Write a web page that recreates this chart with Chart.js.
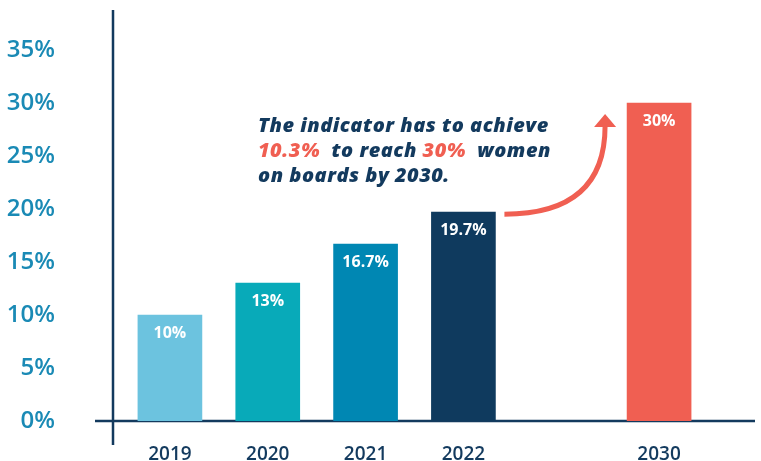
<!DOCTYPE html>
<html lang="en">
<head>
  <meta charset="UTF-8">
  <title>Women on boards</title>
  <script src="https://cdn.jsdelivr.net/npm/chart.js"></script>
  <style>
    html, body { margin: 0; padding: 0; background: #fff; }
    #wrap { width: 761px; height: 461px; position: relative; }
  </style>
</head>
<body>
  <div id="wrap"><canvas id="chart"></canvas></div>

  <script>
    // data
    const years = ['2019', '2020', '2021', '2022', '', '2030'];
    const share = [10, 13, 16.7, 19.7, null, 30];
    const valueLabels = ['10%', '13%', '16.7%', '19.7%', '', '30%'];
    const barColors = ['#6CC3DF', '#08AAB9', '#0087B3', '#0F3A5E', '#ffffff', '#F05F52'];
    const yTicks = [0, 5, 10, 15, 20, 25, 30, 35];

    const NAVY = '#133A5E';
    const CORAL = '#F05F52';
    const FONT = '"Open Sans", "DejaVu Sans", sans-serif';

    // axis lines crossing each other, like the original
    const axisLines = {
      id: 'axisLines',
      beforeDatasetsDraw(chart) {
        const { ctx, chartArea } = chart;
        const y0 = chart.scales.y.getPixelForValue(0);
        const xAxis = chartArea.left - 8;
        ctx.save();
        ctx.strokeStyle = NAVY;
        ctx.lineWidth = 2.5;
        ctx.beginPath();
        ctx.moveTo(xAxis, 10);
        ctx.lineTo(xAxis, 445);
        ctx.moveTo(95, y0);
        ctx.lineTo(755, y0);
        ctx.stroke();
        ctx.restore();
      }
    };

    // white value labels inside the top of each bar
    const barLabels = {
      id: 'barLabels',
      afterDatasetsDraw(chart) {
        const { ctx } = chart;
        const meta = chart.getDatasetMeta(0);
        ctx.save();
        ctx.fillStyle = '#fff';
        ctx.font = `bold 16px ${FONT}`;
        ctx.textAlign = 'center';
        ctx.textBaseline = 'middle';
        meta.data.forEach((bar, i) => {
          if (share[i] == null) return;
          ctx.fillText(valueLabels[i], bar.x, bar.y + 18);
        });
        ctx.restore();
      }
    };

    // callout text + curved arrow towards the 2030 target
    const callout = {
      id: 'callout',
      afterDraw(chart) {
        const { ctx } = chart;
        const meta = chart.getDatasetMeta(0);
        const b22 = meta.data[3];
        const b30 = meta.data[5];

        ctx.save();
        ctx.font = `italic 800 20px ${FONT}`;
        ctx.letterSpacing = '0.5px';
        ctx.textBaseline = 'middle';
        ctx.textAlign = 'left';
        const lines = [
          [['The indicator has to achieve', NAVY]],
          [['10.3%', CORAL], ['  to reach ', NAVY], ['30%', CORAL], ['  women', NAVY]],
          [['on boards by 2030.', NAVY]]
        ];
        lines.forEach((parts, li) => {
          let x = 258;
          const y = 126 + li * 25;
          parts.forEach(([txt, col]) => {
            ctx.fillStyle = col;
            ctx.fillText(txt, x, y);
            x += ctx.measureText(txt).width;
          });
        });

        // arrow
        const sx = b22.x + b22.width / 2 + 9;
        const sy = b22.y + 2;
        const ex = b30.x - b30.width / 2 - 22;
        const ey = b30.y + 23;
        ctx.strokeStyle = CORAL;
        ctx.lineWidth = 5;
        ctx.beginPath();
        ctx.moveTo(sx, sy);
        ctx.quadraticCurveTo(ex, sy, ex, ey);
        ctx.stroke();
        ctx.fillStyle = CORAL;
        ctx.beginPath();
        ctx.moveTo(ex, ey - 12);
        ctx.lineTo(ex - 11, ey + 1);
        ctx.lineTo(ex + 11, ey + 1);
        ctx.closePath();
        ctx.fill();
        ctx.restore();
      }
    };

    new Chart(document.getElementById('chart'), {
      type: 'bar',
      data: {
        labels: years,
        datasets: [{
          data: share,
          backgroundColor: barColors,
          barThickness: 64,
          borderWidth: 0
        }]
      },
      options: {
        responsive: true,
        maintainAspectRatio: false,
        animation: false,
        layout: { padding: { left: 0, right: 53, top: 50, bottom: 0 } },
        plugins: {
          legend: { display: false },
          tooltip: { enabled: false }
        },
        scales: {
          x: {
            grid: { display: false },
            border: { display: false },
            ticks: {
              color: NAVY,
              font: { family: FONT, size: 19, weight: '600' },
              padding: 14
            },
            afterFit(scale) {
              scale.height = 40;
              scale.paddingLeft = 0;
              scale.paddingRight = 0;
            }
          },
          y: {
            min: 0,
            max: 35,
            grid: { display: false },
            border: { display: false },
            afterBuildTicks(scale) {
              scale.ticks = yTicks.map(v => ({ value: v }));
            },
            ticks: {
              color: '#1A8AB5',
              font: { family: FONT, size: 24, weight: '600' },
              padding: 58,
              callback: v => v + '%'
            },
            afterFit(scale) {
              scale.width = 121;
              scale.paddingTop = 0;
              scale.paddingBottom = 0;
            }
          }
        }
      },
      plugins: [axisLines, barLabels, callout]
    });
  </script>
</body>
</html>
